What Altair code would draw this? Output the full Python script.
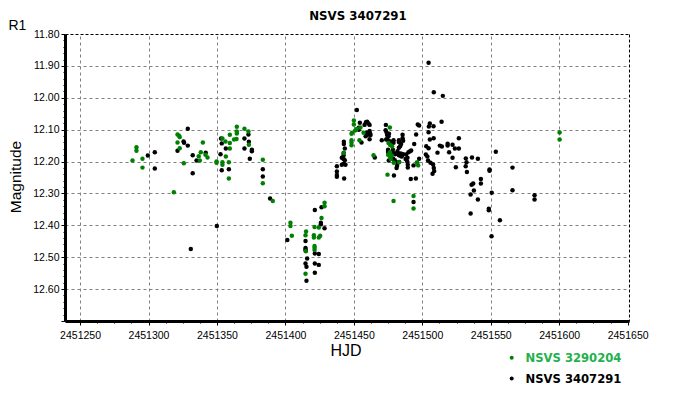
import altair as alt
import pandas as pd

# ---------------- data ----------------
title_text = "NSVS 3407291"
series_names = ["NSVS 3290204", "NSVS 3407291"]
series_colors = ["#008000", "#000000"]
legend_text_colors = ["#22b14c", "#000000"]
x_title = "HJD"
y_title = "Magnitude"
corner_label = "R1"

green_hjd = [
    2451288.3, 2451291.2, 2451291.2, 2451295.6, 2451295.6, 2451318.5, 2451321.2, 2451322.3,
    2451322.8, 2451321.2, 2451322.8, 2451325.8, 2451339.7, 2451338.2, 2451336.7, 2451337.5,
    2451341.6, 2451343.1, 2451349.7, 2451349.7, 2451354.0, 2451356.2, 2451359.4, 2451359.4,
    2451359.4, 2451356.5, 2451354.0, 2451354.0, 2451358.7, 2451358.7, 2451362.5, 2451364.5,
    2451364.5, 2451364.5, 2451364.3, 2451370.1, 2451373.0, 2451373.3, 2451383.5, 2451383.5,
    2451390.8, 2451403.7, 2451403.7, 2451404.7, 2451415.1, 2451414.7, 2451414.9, 2451414.7,
    2451421.3, 2451420.8, 2451420.8, 2451421.3, 2451421.3, 2451421.3, 2451424.4, 2451424.4,
    2451425.4, 2451426.4, 2451428.6, 2451428.6, 2451450.0, 2451450.0, 2451448.7, 2451448.3,
    2451450.9, 2451452.0, 2451448.3, 2451448.3, 2451448.3, 2451454.1, 2451454.8, 2451457.1,
    2451442.7, 2451464.4, 2451476.3, 2451475.3, 2451476.5, 2451478.0, 2451476.3, 2451475.0,
    2451476.3, 2451477.7, 2451477.0, 2451479.2, 2451483.1, 2451474.6, 2451496.0, 2451497.0,
    2451479.0, 2451493.6, 2451493.6, 2451600.3, 2451600.3,
]
green_mag = [
    12.197, 12.155, 12.166, 12.191, 12.219, 12.296, 12.115, 12.119,
    12.123, 12.140, 12.158, 12.205, 12.140, 12.171, 12.183, 12.197,
    12.179, 12.187, 12.200, 12.204, 12.128, 12.137, 12.116, 12.142,
    12.159, 12.184, 12.202, 12.210, 12.202, 12.253, 12.131, 12.091,
    12.106, 12.112, 12.129, 12.097, 12.106, 12.147, 12.194, 12.268,
    12.324, 12.392, 12.402, 12.433, 12.419, 12.431, 12.481, 12.552,
    12.405, 12.431, 12.438, 12.465, 12.470, 12.477, 12.407, 12.438,
    12.433, 12.377, 12.329, 12.340, 12.071, 12.084, 12.110, 12.113,
    12.103, 12.098, 12.133, 12.140, 12.149, 12.133, 12.093, 12.110,
    12.173, 12.180, 12.093, 12.142, 12.148, 12.153, 12.171, 12.179,
    12.183, 12.181, 12.192, 12.204, 12.202, 12.241, 12.203, 12.212,
    12.324, 12.308, 12.347, 12.109, 12.131,
]

black_hjd = [
    2451299.5, 2451304.6, 2451304.6, 2451328.7, 2451325.6, 2451326.0, 2451328.7, 2451321.2,
    2451332.3, 2451332.3, 2451335.1, 2451341.8, 2451330.9, 2451349.9, 2451353.0, 2451353.5,
    2451356.5, 2451352.6, 2451353.5, 2451358.7, 2451370.1, 2451373.0, 2451373.3, 2451370.1,
    2451375.5, 2451375.5, 2451374.0, 2451383.5, 2451383.5, 2451388.8, 2451401.4, 2451414.7,
    2451414.7, 2451414.7, 2451414.9, 2451415.9, 2451414.7, 2451415.4, 2451415.4, 2451421.5,
    2451421.5, 2451421.5, 2451421.5, 2451424.4, 2451424.4, 2451425.9, 2451425.9, 2451426.4,
    2451428.6, 2451452.2, 2451454.4, 2451453.6, 2451453.6, 2451455.6, 2451457.8, 2451458.8,
    2451459.7, 2451460.7, 2451461.5, 2451459.2, 2451459.7, 2451458.6, 2451461.5, 2451461.9,
    2451462.2, 2451461.5, 2451442.7, 2451442.7, 2451443.4, 2451442.5, 2451442.5, 2451441.2,
    2451442.5, 2451443.4, 2451441.2, 2451442.7, 2451443.9, 2451437.6, 2451437.6, 2451437.6,
    2451437.6, 2451442.9, 2451465.3, 2451470.4, 2451473.4, 2451473.2, 2451473.9, 2451474.3,
    2451475.3, 2451475.7, 2451474.3, 2451473.6, 2451475.5, 2451477.0, 2451479.0, 2451479.0,
    2451475.0, 2451475.0, 2451476.8, 2451478.7, 2451478.5, 2451480.2, 2451481.2, 2451475.5,
    2451478.7, 2451479.9, 2451481.9, 2451482.9, 2451483.8, 2451482.9, 2451482.9, 2451482.9,
    2451484.3, 2451484.5, 2451486.0, 2451485.0, 2451485.6, 2451485.6, 2451486.0, 2451484.5,
    2451481.9, 2451483.1, 2451481.6, 2451481.2, 2451479.3, 2451488.2, 2451489.2, 2451489.9,
    2451491.1, 2451491.9, 2451487.8, 2451489.0, 2451489.4, 2451489.4, 2451494.1, 2451495.5,
    2451496.7, 2451497.7, 2451496.3, 2451497.7, 2451493.6, 2451491.6, 2451495.3, 2451493.6,
    2451504.6, 2451508.4, 2451515.0, 2451504.8, 2451505.5, 2451508.2, 2451504.6, 2451514.1,
    2451505.5, 2451508.3, 2451502.9, 2451504.6, 2451502.6, 2451503.7, 2451511.1, 2451504.2,
    2451506.0, 2451507.9, 2451508.4, 2451508.7, 2451507.5, 2451512.8, 2451514.3, 2451518.5,
    2451518.5, 2451522.1, 2451523.8, 2451526.7, 2451526.7, 2451519.6, 2451522.1, 2451524.5,
    2451531.8, 2451532.3, 2451531.7, 2451532.6, 2451536.3, 2451540.6, 2451542.8, 2451542.8,
    2451537.2, 2451536.0, 2451537.7, 2451535.3, 2451540.6, 2451535.3, 2451549.1, 2451549.1,
    2451553.7, 2451550.7, 2451548.6, 2451548.6, 2451556.7, 2451550.6, 2451565.9, 2451565.9,
    2451582.0, 2451582.0,
]
black_mag = [
    12.181, 12.171, 12.222, 12.097, 12.137, 12.141, 12.150, 12.166,
    12.180, 12.237, 12.197, 12.172, 12.474, 12.402, 12.128, 12.143,
    12.159, 12.177, 12.227, 12.224, 12.128, 12.115, 12.138, 12.159,
    12.163, 12.168, 12.191, 12.224, 12.247, 12.316, 12.446, 12.449,
    12.471, 12.476, 12.480, 12.504, 12.520, 12.530, 12.574, 12.352,
    12.488, 12.520, 12.549, 12.490, 12.524, 12.392, 12.397, 12.343,
    12.409, 12.038, 12.078, 12.094, 12.100, 12.140, 12.085, 12.077,
    12.075, 12.081, 12.085, 12.110, 12.117, 12.121, 12.104, 12.112,
    12.117, 12.130, 12.138, 12.145, 12.159, 12.173, 12.181, 12.188,
    12.192, 12.196, 12.210, 12.207, 12.210, 12.215, 12.231, 12.242,
    12.248, 12.253, 12.187, 12.133, 12.085, 12.102, 12.109, 12.117,
    12.121, 12.113, 12.129, 12.131, 12.135, 12.138, 12.133, 12.141,
    12.163, 12.170, 12.175, 12.173, 12.163, 12.177, 12.175, 12.197,
    12.191, 12.196, 12.168, 12.157, 12.152, 12.139, 12.133, 12.180,
    12.175, 12.183, 12.177, 12.184, 12.116, 12.127, 12.135, 12.145,
    12.204, 12.201, 12.213, 12.220, 12.244, 12.178, 12.188, 12.171,
    12.168, 12.165, 12.192, 12.200, 12.210, 12.219, 12.145, 12.115,
    12.084, 12.087, 12.204, 12.191, 12.212, 12.255, 12.253, 12.327,
    11.890, 11.983, 11.994, 12.090, 12.081, 12.089, 12.108, 12.075,
    12.131, 12.127, 12.152, 12.158, 12.178, 12.184, 12.172, 12.197,
    12.204, 12.209, 12.220, 12.230, 12.238, 12.150, 12.153, 12.144,
    12.150, 12.147, 12.159, 12.159, 12.127, 12.171, 12.188, 12.218,
    12.190, 12.202, 12.215, 12.233, 12.187, 12.191, 12.255, 12.269,
    12.269, 12.273, 12.291, 12.303, 12.319, 12.363, 12.225, 12.229,
    12.169, 12.298, 12.348, 12.353, 12.384, 12.434, 12.219, 12.290,
    12.306, 12.319,
]

x_domain = [2451239, 2451651]
y_domain = [11.80, 12.70]
x_ticks = [2451250 + 12.5 * i for i in range(33)]
y_ticks = [round(11.80 + 0.02 * i, 2) for i in range(46)]

# ---------------- build ----------------
df = pd.DataFrame({
    "HJD": black_hjd + green_hjd,
    "Magnitude": black_mag + green_mag,
    "series": [series_names[1]] * len(black_hjd) + [series_names[0]] * len(green_hjd),
})

xs = alt.Scale(domain=x_domain, nice=False, zero=False)
ys = alt.Scale(domain=y_domain, reverse=True, nice=False, zero=False)

x_major = "datum.value % 50 == 0"
y_major = "abs(datum.value * 10 - round(datum.value * 10)) < 0.001"

x_axis = alt.Axis(
    values=x_ticks, title=None,
    labelExpr=f"{x_major} ? format(datum.value, 'd') : ''",
    labelFlush=False, labelOverlap=False, labelFont="Liberation Sans",
    labelFontSize=10.5, labelColor="#000000", labelPadding=5,
    tickColor="#000000", tickWidth=1,
    tickSize={"condition": {"test": x_major, "value": 4}, "value": 2},
    domainColor="#000000", domainWidth=3,
    grid=True, gridColor="#808080", gridDash=[3, 3], gridWidth=1,
    gridOpacity={"condition": {"test": f"{x_major} && datum.value < 2451640", "value": 1}, "value": 0},
)
y_axis = alt.Axis(
    values=y_ticks, title=None,
    labelExpr=f"({y_major}) && datum.value < 12.65 ? format(datum.value, '.2f') : ''",
    labelFlush=False, labelOverlap=False, labelFont="Liberation Sans",
    labelFontSize=10.5, labelColor="#000000", labelPadding=2,
    tickColor="#000000", tickWidth=1,
    tickSize={"condition": {"test": y_major, "value": 4}, "value": 2},
    domainColor="#000000", domainWidth=3,
    grid=True, gridColor="#808080", gridDash=[3, 3], gridWidth=1,
    gridOpacity={"condition": {"test": f"({y_major}) && datum.value > 11.81 && datum.value < 12.65", "value": 1}, "value": 0},
)

points = alt.Chart(df).mark_circle(size=20, opacity=1).encode(
    x=alt.X("HJD:Q", scale=xs, axis=x_axis),
    y=alt.Y("Magnitude:Q", scale=ys, axis=y_axis),
    color=alt.Color("series:N", scale=alt.Scale(domain=series_names, range=series_colors), legend=None),
)

frame = alt.Chart(df).mark_point(opacity=0).encode(
    x=alt.X("HJD:Q", scale=xs, axis=alt.Axis(orient="top", labels=False, ticks=False, grid=False,
                                              domainColor="#000000", domainDash=[3, 2], domainWidth=1, title=None)),
    y=alt.Y("Magnitude:Q", scale=ys, axis=alt.Axis(orient="right", labels=False, ticks=False, grid=False,
                                                    domainColor="#000000", domainDash=[3, 2], domainWidth=1, title=None)),
)


def label(text, x, y, size, weight="normal", color="#000000", angle=0, align="center", font="Liberation Sans"):
    return alt.Chart(pd.DataFrame({"t": [text]})).mark_text(
        font=font, fontSize=size, fontWeight=weight, color=color, angle=angle,
        align=align, baseline="alphabetic",
    ).encode(x=alt.value(x), y=alt.value(y), text="t:N")


layers = [
    points,
    frame,
    label(title_text, 293, -14, 11.8, weight="bold", font="DejaVu Sans"),
    label(corner_label, -56.5, -4.5, 14, align="left"),
    label(y_title, -44.5, 143, 15.5, angle=270),
    label(x_title, 281, 322, 16),
]

legend_y = [323.7, 344.5]
for name, c, tc, ly in zip(series_names, series_colors, legend_text_colors, legend_y):
    layers.append(
        alt.Chart(pd.DataFrame({"s": [name]})).mark_circle(size=16, opacity=1, color=c)
        .encode(x=alt.value(446.7), y=alt.value(ly))
    )
    layers.append(label(name, 460.5, ly + 4.3, 11.6, weight="bold", color=tc, align="left", font="DejaVu Sans"))

chart = alt.layer(*layers).resolve_axis(x="independent", y="independent").properties(
    width=564, height=287,
    autosize=alt.AutoSizeParams(type="none"),
    padding={"left": 57, "top": 26, "right": 40, "bottom": 66},
    background="#ffffff",
).configure_view(stroke=None)

chart.save("out.html", embed_options={"renderer": "svg", "actions": False})
